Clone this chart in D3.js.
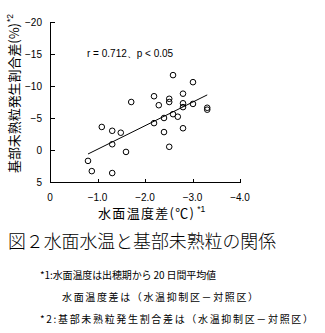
<!DOCTYPE html>
<html>
<head>
<meta charset="utf-8">
<script src="https://cdn.jsdelivr.net/npm/d3@7"></script>
<style>
  html, body { margin: 0; padding: 0; background: #fff; }
  svg { display: block; }
  .jp { font-family: "Noto Sans CJK JP", sans-serif; fill: #000; }
  .num { font-family: "Liberation Sans", Arial, sans-serif; font-size: 10px; fill: #000; }
</style>
</head>
<body>
<svg id="chart" width="325" height="333"></svg>
<script>
// Water-surface temperature difference (°C) per plot
const tempDiff = [
  -0.80, -0.88, -1.09, -1.31, -1.31, -1.31, -1.49, -1.60, -1.71,
  -2.19, -2.19, -2.29, -2.40, -2.40, -2.51, -2.51, -2.51, -2.59,
  -2.59, -2.69, -2.80, -2.80, -2.80, -2.80, -3.01, -3.01, -3.31, -3.31
];
// Difference in basal immature grain rate (%) per plot
const immatureDiff = [
   1.7,  3.3, -3.6, -3.0, -0.9,  3.6, -2.7,  0.3, -7.5,
  -8.4, -4.2, -7.0, -5.0, -2.8, -8.0, -7.5, -0.5, -11.7,
  -5.6, -5.2, -8.8, -7.3, -6.7, -3.4, -10.6, -7.2, -6.6, -6.3
];
// Fitted line y = intercept + slope * x over the observed range
const fitIntercept = 3.57;
const fitSlope = 3.68;
const fitRange = [-0.80, -3.31];

const xTicks = [0, -1, -2, -3, -4];
const yTicks = [-20, -15, -10, -5, 0, 5];
const statText = "r = 0.712、p < 0.05";
const xTitle = "水面温度差(℃)";
const yTitle = "基部未熟粒発生割合差(%)";
const figTitle = "図２水面水温と基部未熟粒の関係";
const notes = [
  "*1:水面温度は出穂期から 20 日間平均値",
  "水面温度差は（水温抑制区－対照区）",
  "*2:基部未熟粒発生割合差は（水温抑制区－対照区）"
];

const svg = d3.select("#chart");
const plot = { left: 50, right: 240, top: 22, bottom: 182 };

const x = d3.scaleLinear().domain([0, -4]).range([plot.left, plot.right]);
const y = d3.scaleLinear().domain([5, -20]).range([plot.bottom, plot.top]);

// Y axis with inward ticks
const yAxis = svg.append("g")
  .attr("transform", `translate(${plot.left + 0.5},0)`)
  .call(d3.axisRight(y).tickValues(yTicks).tickSize(4).tickFormat(""));
yAxis.select(".domain").attr("d", `M0,${plot.top}V${plot.bottom}`);
yAxis.selectAll("line").attr("shape-rendering", "crispEdges");

svg.append("g").selectAll("text").data(yTicks).join("text")
  .attr("class", "num")
  .attr("x", plot.left - 8)
  .attr("y", d => y(d))
  .attr("dy", "0.35em")
  .attr("text-anchor", "end")
  .text(d => d3.format("d")(d));

// X axis with inward ticks
const xAxis = svg.append("g")
  .attr("transform", `translate(0,${plot.bottom + 0.5})`)
  .call(d3.axisTop(x).tickValues(xTicks).tickSize(4).tickFormat(""));
xAxis.select(".domain").attr("d", `M${plot.left},0H${plot.right}`);
xAxis.selectAll("line").attr("shape-rendering", "crispEdges");

svg.append("g").selectAll("text").data(xTicks).join("text")
  .attr("class", "num")
  .attr("x", d => x(d))
  .attr("y", plot.bottom + 15)
  .attr("dy", "0.35em")
  .attr("text-anchor", "middle")
  .text(d => d === 0 ? "0" : d3.format(".1f")(d));

svg.selectAll(".domain").attr("stroke", "#000").attr("shape-rendering", "crispEdges");

// Regression line
svg.append("line")
  .attr("x1", x(fitRange[0])).attr("y1", y(fitIntercept + fitSlope * fitRange[0]))
  .attr("x2", x(fitRange[1])).attr("y2", y(fitIntercept + fitSlope * fitRange[1]))
  .attr("stroke", "#000").attr("stroke-width", 1);

// Observations as open circles
svg.append("g").selectAll("circle").data(tempDiff).join("circle")
  .attr("cx", (d, i) => x(d))
  .attr("cy", (d, i) => y(immatureDiff[i]))
  .attr("r", 2.8)
  .attr("fill", "none")
  .attr("stroke", "#000")
  .attr("stroke-width", 1);

// Correlation annotation
svg.append("text")
  .attr("class", "num")
  .attr("x", 87).attr("y", 53).attr("dy", "0.35em")
  .attr("font-size", 9.5)
  .text(statText);

// Axis titles
const xt = svg.append("text").attr("class", "jp")
  .attr("x", 98).attr("y", 218)
  .attr("font-size", 13);
xt.append("tspan").attr("textLength", 96).attr("lengthAdjust", "spacing").text(xTitle);
xt.append("tspan").attr("dx", 2).attr("dy", -6).attr("font-size", 8.5)
  .attr("font-family", "Liberation Sans, sans-serif").text("*1");

const yt = svg.append("text").attr("class", "jp")
  .attr("transform", "translate(19,173) rotate(-90)")
  .attr("font-size", 13);
yt.append("tspan").attr("textLength", 150).attr("lengthAdjust", "spacing").text(yTitle);
yt.append("tspan").attr("dx", 1).attr("dy", -6).attr("font-size", 8.5)
  .attr("font-family", "Liberation Sans, sans-serif").text("*2");

// Figure caption and notes
svg.append("text").attr("class", "jp")
  .attr("x", 8).attr("y", 248)
  .attr("font-size", 18).attr("font-weight", 300)
  .attr("textLength", 268).attr("lengthAdjust", "spacingAndGlyphs")
  .text(figTitle);

svg.append("text").attr("class", "jp")
  .attr("x", 40).attr("y", 279).attr("font-size", 10)
  .attr("textLength", 176).attr("lengthAdjust", "spacing")
  .text(notes[0]);
svg.append("text").attr("class", "jp")
  .attr("x", 62).attr("y", 301).attr("font-size", 10)
  .attr("textLength", 196).attr("lengthAdjust", "spacing")
  .text(notes[1]);
svg.append("text").attr("class", "jp")
  .attr("x", 40).attr("y", 323).attr("font-size", 10)
  .attr("textLength", 273).attr("lengthAdjust", "spacing")
  .text(notes[2]);
</script>
</body>
</html>
